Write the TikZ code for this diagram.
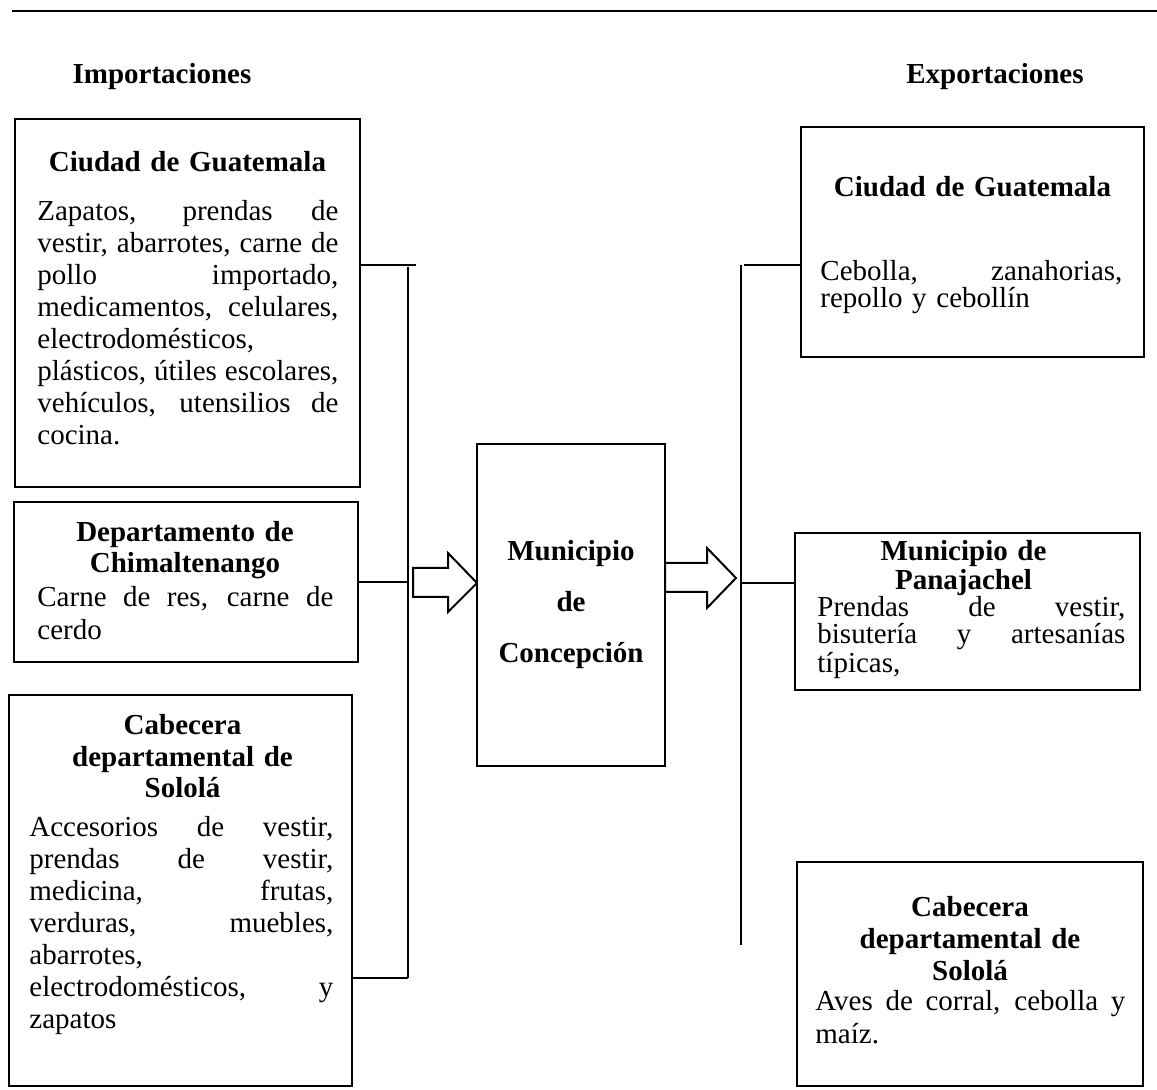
\documentclass[tikz,border=0pt]{standalone}
\usepackage{fontspec}
\setmainfont{Liberation Serif}
\usetikzlibrary{positioning}
\newcommand{\jl}[1]{\makebox[\hsize][s]{\spaceskip=0pt\xspaceskip=0pt #1}}
\tikzset{
  box/.style={draw,line width=1.1pt,inner sep=0pt,outer sep=0pt},
  hdr/.style={font=\fontsize{14.5}{16}\selectfont\bfseries,inner sep=0pt},
  ttl/.style={font=\fontsize{14.5}{16}\selectfont\bfseries,align=center,text width=160pt,inner sep=0pt},
  txt/.style={font=\fontsize{14.5}{16}\selectfont,align=left,inner sep=0pt},
  conn/.style={line width=0.8pt},
  blockarrow/.style={draw,line width=1pt,fill=white,line join=miter},
  rule/.style={line width=1.3pt}
}
\begin{document}
\begin{tikzpicture}[x=0.5pt,y=-0.5pt]
\useasboundingbox (0,0) rectangle (1157,1090);

\draw[rule] (12,11) -- (1157,11);
\node[hdr](hdr-imp) at (162,77) {Importaciones};
\node[hdr](hdr-exp) at (995,77) {Exportaciones};

% importaciones
\node[box,minimum width=172.5pt,minimum height=184pt](imp1) at (187.5,303) {};
\node[ttl,anchor=base](imp1-1) at ([yshift=-26.5pt]imp1.north) {Ciudad de Guatemala};
\node[txt,anchor=base west,text width=150.5pt](imp1-2) at ([xshift=11pt,yshift=-51pt]imp1.north west) {\jl{Zapatos, prendas de}\\ \jl{vestir, abarrotes, carne de}\\ \jl{pollo importado,}\\ \jl{medicamentos, celulares,}\\ electrodomésticos,\\ \jl{plásticos, útiles escolares,}\\ \jl{vehículos, utensilios de}\\ cocina.};

\node[box,minimum width=172pt,minimum height=80pt](imp2) at (186,582) {};
\node[ttl,anchor=base,font=\fontsize{14.5}{15.5}\selectfont\bfseries](imp2-1) at ([xshift=-0.5pt,yshift=-20pt]imp2.north) {Departamento de\\Chimaltenango};
\node[txt,anchor=base west,text width=148pt,font=\fontsize{14.5}{16.5}\selectfont](imp2-2) at ([xshift=11.5pt,yshift=-52.5pt]imp2.north west) {\jl{Carne de res, carne de}\\ cerdo};

\node[box,minimum width=171.5pt,minimum height=195.5pt](imp3) at (180.5,890.5) {};
\node[ttl,anchor=base](imp3-1) at ([xshift=1pt,yshift=-19.5pt]imp3.north) {Cabecera\\departamental de\\Sololá};
\node[txt,anchor=base west,text width=152pt](imp3-2) at ([xshift=10pt,yshift=-70.5pt]imp3.north west) {\jl{Accesorios de vestir,}\\ \jl{prendas de vestir,}\\ \jl{medicina, frutas,}\\ \jl{verduras, muebles,}\\ abarrotes,\\ \jl{electrodomésticos, y}\\ zapatos};

% municipio
\node[box,minimum width=94pt,minimum height=161pt](mun) at (571,605) {};
\node[ttl,anchor=base,text width=90pt,font=\fontsize{14.5}{25.5}\selectfont\bfseries](mun-1) at ([yshift=-58.5pt]mun.north) {Municipio\\de\\Concepción};

% exportaciones
\node[box,minimum width=171.5pt,minimum height=115pt](exp1) at (972.5,242) {};
\node[ttl,anchor=base](exp1-1) at ([yshift=-35pt]exp1.north) {Ciudad de Guatemala};
\node[txt,anchor=base west,text width=151pt,font=\fontsize{14.5}{13.5}\selectfont](exp1-2) at ([xshift=9.5pt,yshift=-77pt]exp1.north west) {\jl{Cebolla, zanahorias,}\\ repollo y cebollín};

\node[box,minimum width=172.5pt,minimum height=78.5pt](exp2) at (967.5,611.5) {};
\node[ttl,anchor=base,font=\fontsize{14.5}{14.5}\selectfont\bfseries](exp2-1) at ([xshift=-2pt,yshift=-14pt]exp2.north) {Municipio de\\Panajachel};
\node[txt,anchor=base west,text width=154pt,font=\fontsize{14.5}{11}\selectfont](exp2-2) at ([xshift=11pt,yshift=-42pt]exp2.north west) {\jl{Prendas de vestir,}\\ \jl{bisutería y artesanías}\\ típicas,};

\node[box,minimum width=173pt,minimum height=112pt](exp3) at (970,974) {};
\node[ttl,anchor=base](exp3-1) at ([yshift=-27pt]exp3.north) {Cabecera\\departamental de\\Sololá};
\node[txt,anchor=base west,text width=155pt,font=\fontsize{14.5}{16.5}\selectfont](exp3-2) at ([xshift=9pt,yshift=-74pt]exp3.north west) {\jl{Aves de corral, cebolla y}\\ maíz.};

% conectores
\coordinate (busL-top) at (408,265);
\coordinate (busL-bot) at (408,978);
\draw[conn] ([yshift=-1pt]busL-top) -- (busL-bot);
\draw[conn] (imp1.east |- busL-top) -- ([xshift=4pt]busL-top);
\draw[conn] (imp2.east) -- (imp2.east -| busL-top);
\draw[conn] (imp3.east |- busL-bot) -- (busL-bot);

\coordinate (busR-top) at (741,265);
\coordinate (busR-bot) at (741,945);
\draw[conn] (busR-top) -- (busR-bot);
\draw[conn] ([xshift=1.5pt]busR-top) -- (exp1.west |- busR-top);
\draw[conn] (busR-top |- exp2.west) ++(0,-28.5) -- ([yshift=14.25pt]exp2.west);

% flechas
\coordinate (arrL) at ([yshift=11pt]mun.west);
\coordinate (arrR) at ([xshift=35.5pt,yshift=13.5pt]mun.east);
\draw[blockarrow] (arrL) -- ++(-29,-30) -- ++(0,15) -- ++(-35,0) -- ++(0,29) -- ++(35,0) -- ++(0,15) -- cycle;
\draw[blockarrow] (arrR) -- ++(-29,-30) -- ++(0,15) -- ++(-42,0) -- ++(0,29) -- ++(42,0) -- ++(0,16) -- cycle;
\end{tikzpicture}
\end{document}
